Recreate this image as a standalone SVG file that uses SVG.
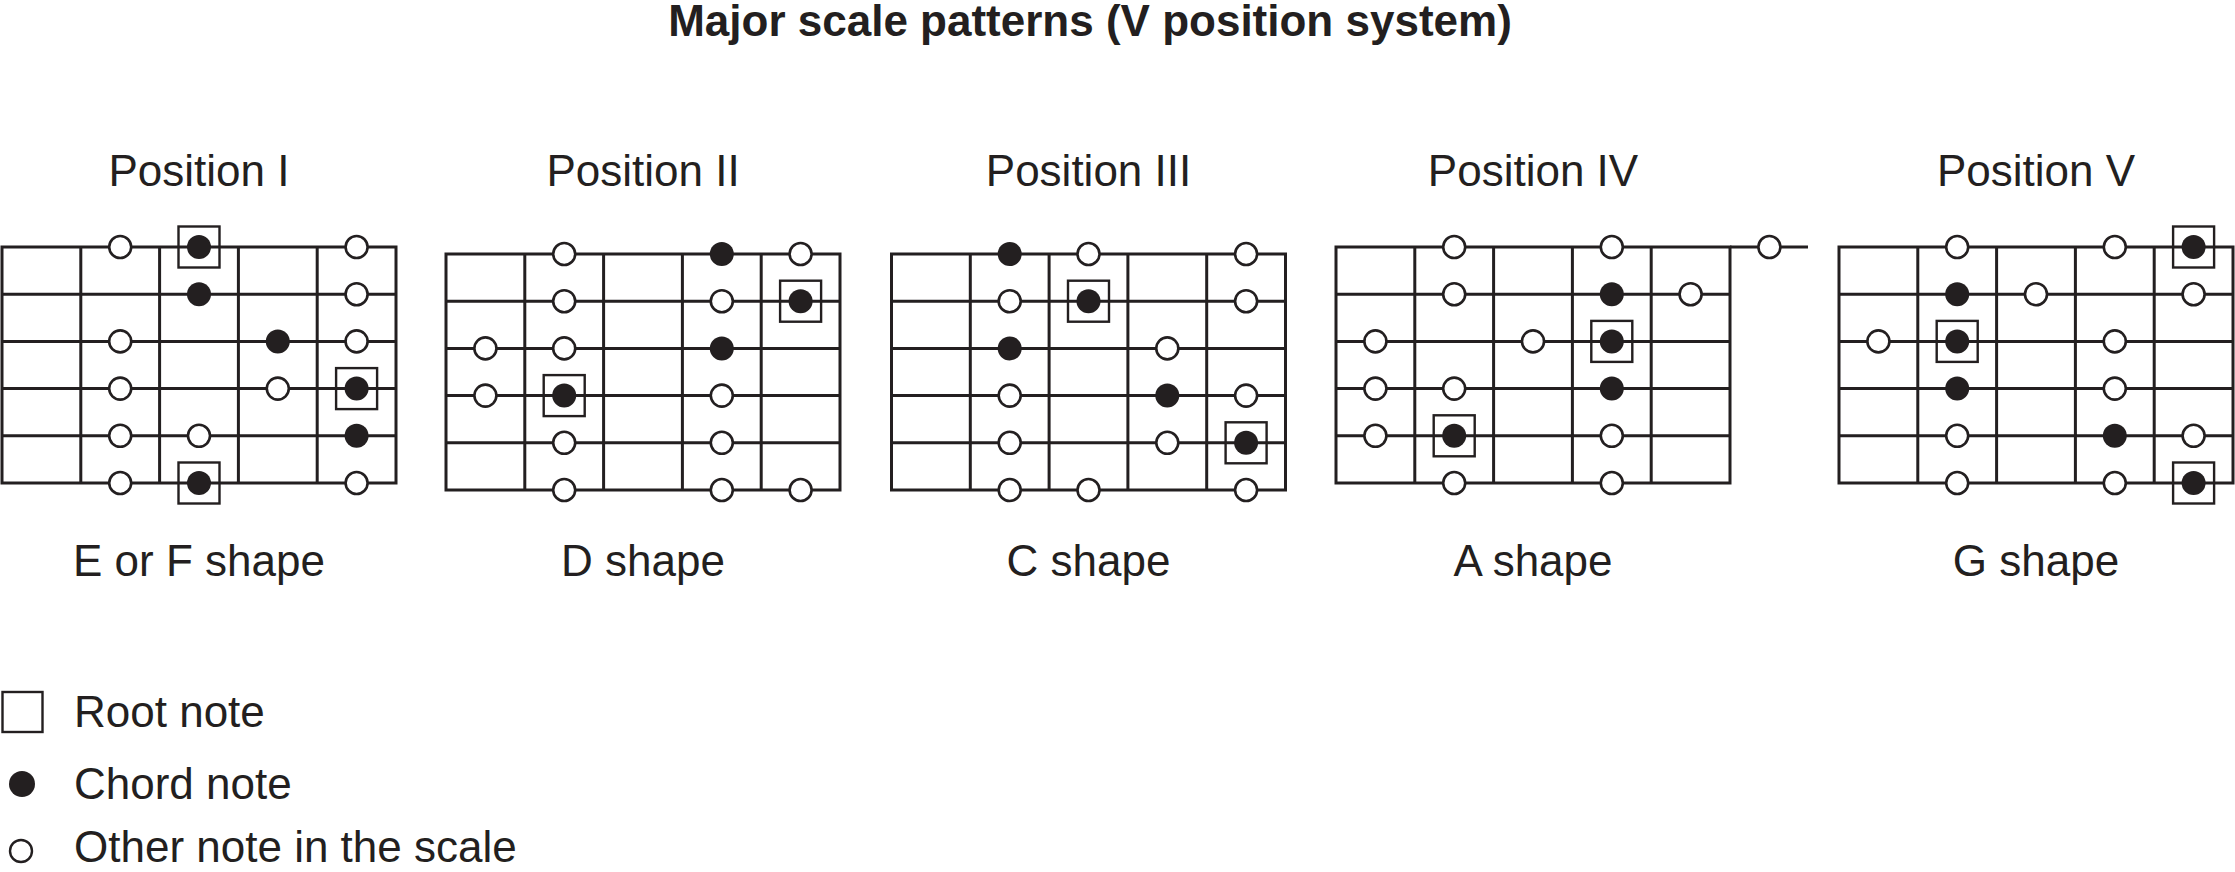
<svg xmlns="http://www.w3.org/2000/svg" xmlns:xlink="http://www.w3.org/1999/xlink" width="2235" height="872" viewBox="0 0 2235 872">
<style>
.t{font-family:"Liberation Sans",Arial,sans-serif;fill:#231f20}
.title{font-size:44px;font-weight:bold;text-anchor:middle}
.lbl{font-size:44px;text-anchor:middle}
.leg{font-size:44px}
.g{stroke:#231f20;stroke-width:3;fill:none}
</style>
<defs>
<circle id="o" r="11" fill="#fff" stroke="#231f20" stroke-width="2.6"/>
<circle id="f" r="12" fill="#231f20"/>
<rect id="rb" x="-20.5" y="-20.5" width="41" height="41" fill="none" stroke="#231f20" stroke-width="2.4"/>
<g id="grid" class="g">
<rect x="0" y="0" width="394" height="236"/>
<path d="M78.8 0V236M157.6 0V236M236.4 0V236M315.2 0V236M0 47.2H394M0 94.4H394M0 141.6H394M0 188.8H394"/>
</g>
</defs>
<rect width="2235" height="872" fill="#fff"/>
<text class="t title" x="1090" y="36">Major scale patterns (V position system)</text>

<g id="pos1" transform="translate(2,247)">
<text class="t lbl" x="197" y="-61">Position I</text>
<use xlink:href="#grid"/>
<use xlink:href="#o" x="118.2" y="0"/><use xlink:href="#f" x="197" y="0"/><use xlink:href="#rb" x="197" y="0"/><use xlink:href="#o" x="354.6" y="0"/>
<use xlink:href="#f" x="197" y="47.2"/><use xlink:href="#o" x="354.6" y="47.2"/>
<use xlink:href="#o" x="118.2" y="94.4"/><use xlink:href="#f" x="275.8" y="94.4"/><use xlink:href="#o" x="354.6" y="94.4"/>
<use xlink:href="#o" x="118.2" y="141.6"/><use xlink:href="#o" x="275.8" y="141.6"/><use xlink:href="#f" x="354.6" y="141.6"/><use xlink:href="#rb" x="354.6" y="141.6"/>
<use xlink:href="#o" x="118.2" y="188.8"/><use xlink:href="#o" x="197" y="188.8"/><use xlink:href="#f" x="354.6" y="188.8"/>
<use xlink:href="#o" x="118.2" y="236"/><use xlink:href="#f" x="197" y="236"/><use xlink:href="#rb" x="197" y="236"/><use xlink:href="#o" x="354.6" y="236"/>
<text class="t lbl" x="197" y="329">E or F shape</text>
</g>

<g id="pos2" transform="translate(446,254)">
<text class="t lbl" x="197" y="-68">Position II</text>
<use xlink:href="#grid"/>
<use xlink:href="#o" x="118.2" y="0"/><use xlink:href="#f" x="275.8" y="0"/><use xlink:href="#o" x="354.6" y="0"/>
<use xlink:href="#o" x="118.2" y="47.2"/><use xlink:href="#o" x="275.8" y="47.2"/><use xlink:href="#f" x="354.6" y="47.2"/><use xlink:href="#rb" x="354.6" y="47.2"/>
<use xlink:href="#o" x="39.4" y="94.4"/><use xlink:href="#o" x="118.2" y="94.4"/><use xlink:href="#f" x="275.8" y="94.4"/>
<use xlink:href="#o" x="39.4" y="141.6"/><use xlink:href="#f" x="118.2" y="141.6"/><use xlink:href="#rb" x="118.2" y="141.6"/><use xlink:href="#o" x="275.8" y="141.6"/>
<use xlink:href="#o" x="118.2" y="188.8"/><use xlink:href="#o" x="275.8" y="188.8"/>
<use xlink:href="#o" x="118.2" y="236"/><use xlink:href="#o" x="275.8" y="236"/><use xlink:href="#o" x="354.6" y="236"/>
<text class="t lbl" x="197" y="322">D shape</text>
</g>

<g id="pos3" transform="translate(891.5,254)">
<text class="t lbl" x="197" y="-68">Position III</text>
<use xlink:href="#grid"/>
<use xlink:href="#f" x="118.2" y="0"/><use xlink:href="#o" x="197" y="0"/><use xlink:href="#o" x="354.6" y="0"/>
<use xlink:href="#o" x="118.2" y="47.2"/><use xlink:href="#f" x="197" y="47.2"/><use xlink:href="#rb" x="197" y="47.2"/><use xlink:href="#o" x="354.6" y="47.2"/>
<use xlink:href="#f" x="118.2" y="94.4"/><use xlink:href="#o" x="275.8" y="94.4"/>
<use xlink:href="#o" x="118.2" y="141.6"/><use xlink:href="#f" x="275.8" y="141.6"/><use xlink:href="#o" x="354.6" y="141.6"/>
<use xlink:href="#o" x="118.2" y="188.8"/><use xlink:href="#o" x="275.8" y="188.8"/><use xlink:href="#f" x="354.6" y="188.8"/><use xlink:href="#rb" x="354.6" y="188.8"/>
<use xlink:href="#o" x="118.2" y="236"/><use xlink:href="#o" x="197" y="236"/><use xlink:href="#o" x="354.6" y="236"/>
<text class="t lbl" x="197" y="322">C shape</text>
</g>

<g id="pos4" transform="translate(1336,247)">
<text class="t lbl" x="197" y="-61">Position IV</text>
<path class="g" d="M394 0H472"/>
<use xlink:href="#grid"/>
<use xlink:href="#o" x="118.2" y="0"/><use xlink:href="#o" x="275.8" y="0"/><use xlink:href="#o" x="433.4" y="0"/>
<use xlink:href="#o" x="118.2" y="47.2"/><use xlink:href="#f" x="275.8" y="47.2"/><use xlink:href="#o" x="354.6" y="47.2"/>
<use xlink:href="#o" x="39.4" y="94.4"/><use xlink:href="#o" x="197" y="94.4"/><use xlink:href="#f" x="275.8" y="94.4"/><use xlink:href="#rb" x="275.8" y="94.4"/>
<use xlink:href="#o" x="39.4" y="141.6"/><use xlink:href="#o" x="118.2" y="141.6"/><use xlink:href="#f" x="275.8" y="141.6"/>
<use xlink:href="#o" x="39.4" y="188.8"/><use xlink:href="#f" x="118.2" y="188.8"/><use xlink:href="#rb" x="118.2" y="188.8"/><use xlink:href="#o" x="275.8" y="188.8"/>
<use xlink:href="#o" x="118.2" y="236"/><use xlink:href="#o" x="275.8" y="236"/>
<text class="t lbl" x="197" y="329">A shape</text>
</g>

<g id="pos5" transform="translate(1839,247)">
<text class="t lbl" x="197" y="-61">Position V</text>
<use xlink:href="#grid"/>
<use xlink:href="#o" x="118.2" y="0"/><use xlink:href="#o" x="275.8" y="0"/><use xlink:href="#f" x="354.6" y="0"/><use xlink:href="#rb" x="354.6" y="0"/>
<use xlink:href="#f" x="118.2" y="47.2"/><use xlink:href="#o" x="197" y="47.2"/><use xlink:href="#o" x="354.6" y="47.2"/>
<use xlink:href="#o" x="39.4" y="94.4"/><use xlink:href="#f" x="118.2" y="94.4"/><use xlink:href="#rb" x="118.2" y="94.4"/><use xlink:href="#o" x="275.8" y="94.4"/>
<use xlink:href="#f" x="118.2" y="141.6"/><use xlink:href="#o" x="275.8" y="141.6"/>
<use xlink:href="#o" x="118.2" y="188.8"/><use xlink:href="#f" x="275.8" y="188.8"/><use xlink:href="#o" x="354.6" y="188.8"/>
<use xlink:href="#o" x="118.2" y="236"/><use xlink:href="#o" x="275.8" y="236"/><use xlink:href="#f" x="354.6" y="236"/><use xlink:href="#rb" x="354.6" y="236"/>
<text class="t lbl" x="197" y="329">G shape</text>
</g>

<g id="legend">
<rect x="2.5" y="692" width="40" height="40" fill="none" stroke="#231f20" stroke-width="2.4"/>
<text class="t leg" x="74" y="727">Root note</text>
<circle cx="22" cy="784" r="13" fill="#231f20"/>
<text class="t leg" x="74" y="799">Chord note</text>
<circle cx="21" cy="851" r="11" fill="#fff" stroke="#231f20" stroke-width="2.4"/>
<text class="t leg" x="74" y="862">Other note in the scale</text>
</g>
</svg>
